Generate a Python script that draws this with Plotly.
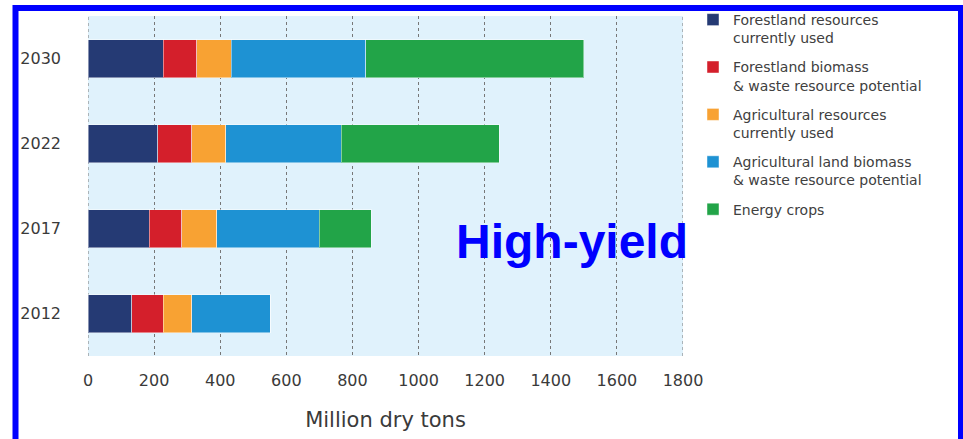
import plotly.graph_objects as go

years = ["2012", "2017", "2022", "2030"]
series_names = [
    "Forestland resources<br>currently used",
    "Forestland biomass<br>& waste resource potential",
    "Agricultural resources<br>currently used",
    "Agricultural land biomass<br>& waste resource potential",
    "Energy crops",
]
forest_used = [132, 185, 211, 227]
forest_potential = [95, 99, 103, 102]
ag_used = [87, 105, 102, 105]
ag_potential = [238, 310, 350, 406]
energy_crops = [0, 158, 478, 660]
x_ticks = [0, 200, 400, 600, 800, 1000, 1200, 1400, 1600, 1800]

series_values = [forest_used, forest_potential, ag_used, ag_potential, energy_crops]
colors = ["#253a74", "#d41f2b", "#f8a233", "#1e92d3", "#22a448"]

W, H = 963, 439
L, R, T, B = 88, 280, 16, 83
PW, PH = W - L - R, H - T - B

def px_x(p):
    return (p - L) / PW

def px_y(p):
    return (H - B - p) / PH

fig = go.Figure()
for i, (name, vals, col) in enumerate(zip(series_names, series_values, colors)):
    fig.add_trace(go.Bar(
        y=years, x=vals, name=name, orientation="h",
        marker=dict(color=col, line=dict(color="rgba(255,255,255,0.45)", width=1)),
        legendgroup=f"g{i}",
    ))

fig.update_layout(
    width=W, height=H,
    margin=dict(l=L, r=R, t=T, b=B, autoexpand=False),
    barmode="stack", bargap=0.553,
    plot_bgcolor="#e0f2fc", paper_bgcolor="white",
    font=dict(family="DejaVu Sans", color="#3a3a3a"),
    legend=dict(
        x=px_x(693), xanchor="left", y=px_y(4), yanchor="top",
        traceorder="grouped", tracegroupgap=8, valign="top",
        font=dict(size=14, color="#404040"),
        bgcolor="rgba(0,0,0,0)", maxheight=1,
    ),
    xaxis=dict(
        range=[0, 1800], tickvals=x_ticks, ticktext=[str(v) for v in x_ticks],
        showgrid=True, gridcolor="#777777", griddash="dot", gridwidth=1,
        zeroline=False, showline=False, ticks="",
        tickfont=dict(size=16, color="#3a3a3a"), ticklabelstandoff=13,
        title=dict(text="Million dry tons", font=dict(size=21, color="#3a3a3a"), standoff=23),
        fixedrange=True,
    ),
    yaxis=dict(
        categoryorder="array", categoryarray=years,
        showgrid=False, zeroline=False, showline=False, ticks="",
        tickfont=dict(size=16, color="#3a3a3a"), ticklabelstandoff=26,
        fixedrange=True,
    ),
    showlegend=True,
)

for xv in (x_ticks[0], x_ticks[-1]):
    fig.add_shape(
        type="line", xref="x", yref="paper", x0=xv, x1=xv, y0=0, y1=1,
        line=dict(color="#777777", width=1, dash="dot"), layer="below",
    )

fig.add_annotation(
    text="<b>High-yield</b>", xref="paper", yref="paper",
    x=px_x(572), y=px_y(241), xanchor="center", yanchor="middle",
    showarrow=False, font=dict(family="Liberation Sans", size=48, color="#0000ff"),
)

fig.add_shape(
    type="rect", xref="paper", yref="paper",
    x0=px_x(15.5), x1=px_x(961), y0=px_y(8), y1=px_y(450),
    line=dict(color="#0000ff", width=6), fillcolor="rgba(0,0,0,0)", layer="above",
)

fig.write_html("out.html")
